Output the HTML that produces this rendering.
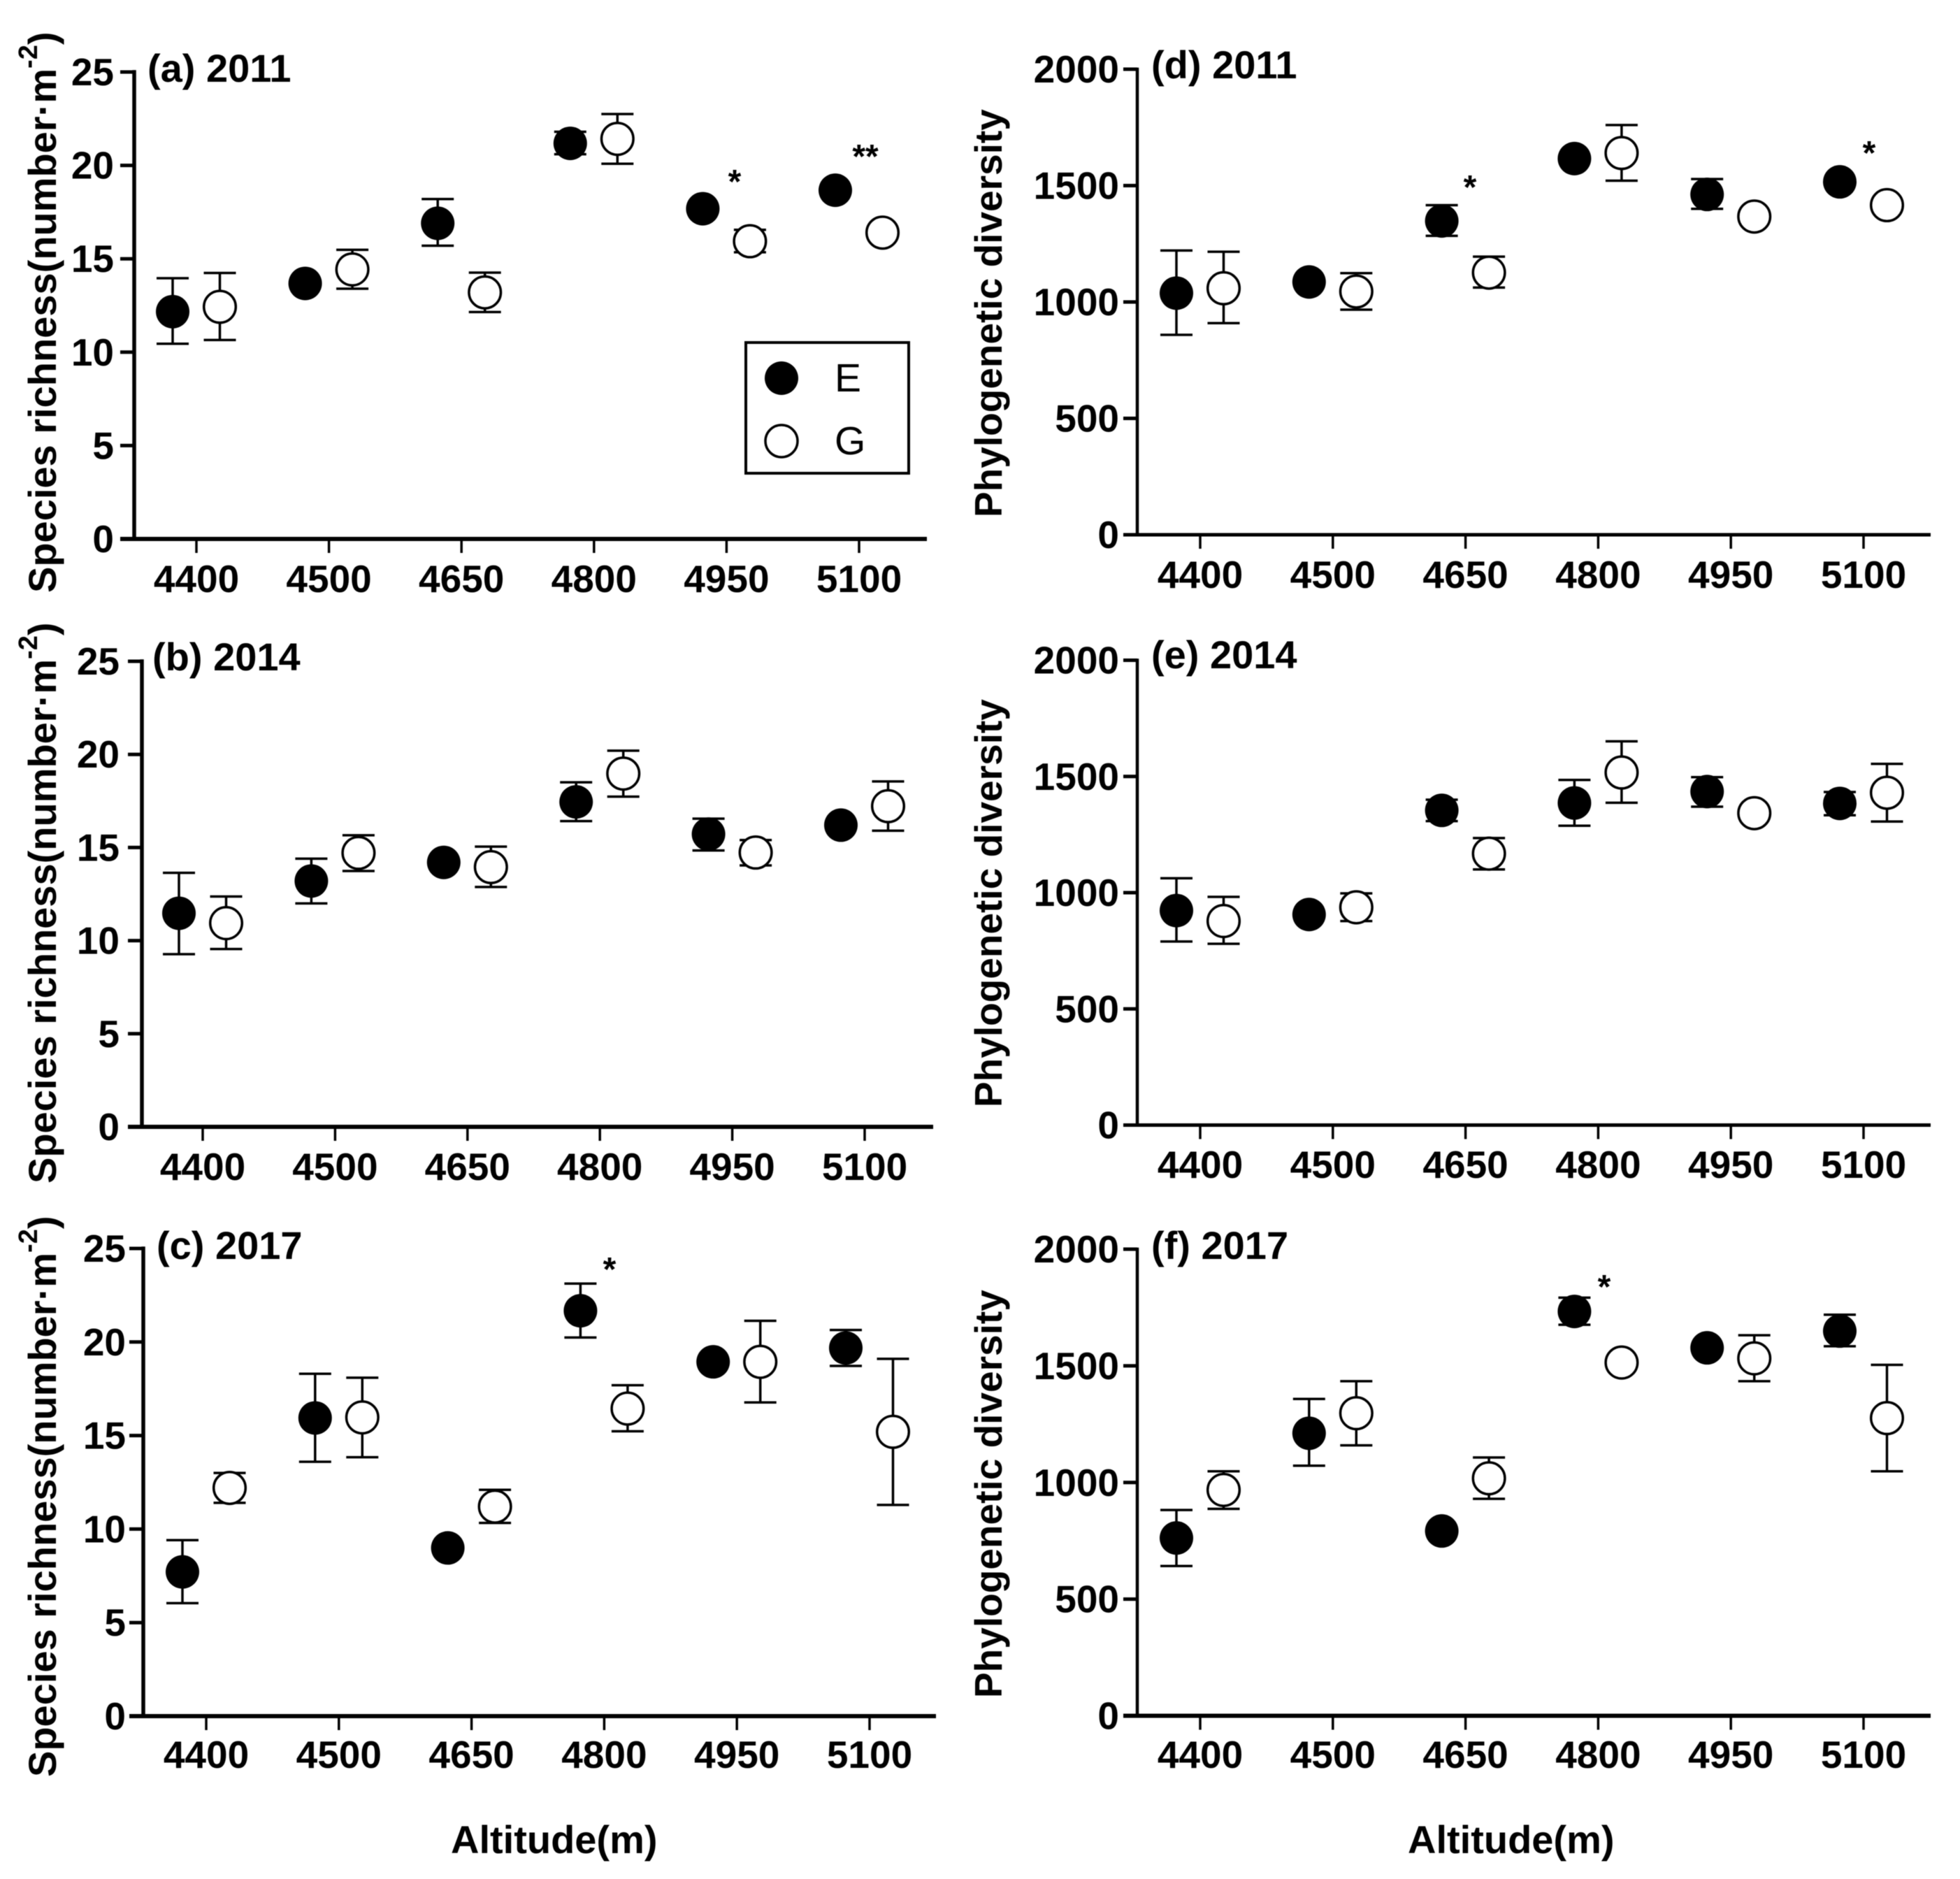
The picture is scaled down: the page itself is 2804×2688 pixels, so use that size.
<!DOCTYPE html>
<html lang="en">
<head>
<meta charset="utf-8">
<title>Species richness and phylogenetic diversity by altitude</title>
<style>
html,body{margin:0;padding:0;background:#fff;}
svg{display:block;filter:blur(0.6px);}
text{font-family:"Liberation Sans",Arial,sans-serif;fill:#000;}
.b{font-weight:700;}
.tick{font-size:55px;font-weight:700;}
.title{font-size:56px;font-weight:700;}
.ylab{font-size:56px;font-weight:700;}
.plab{font-size:55px;font-weight:700;}
.xlab{font-size:56px;font-weight:700;}
.star{font-size:48px;font-weight:700;}
.leg{font-size:57px;}
</style>
</head>
<body>
<svg id="chart" xmlns="http://www.w3.org/2000/svg" width="2804" height="2688" viewBox="0 0 2804 2688">
<rect x="0" y="0" width="2804" height="2688" fill="#fff"/>

<text class="title" x="211" y="117">(a) 2011</text>
<text class="title" x="218" y="959">(b) 2014</text>
<text class="title" x="224" y="1801">(c) 2017</text>
<text class="title" x="1647" y="112">(d) 2011</text>
<text class="title" x="1647" y="956">(e) 2014</text>
<text class="title" x="1647" y="1801">(f) 2017</text>

<text class="ylab" transform="translate(80,848) rotate(-90)">Species richness(number·m<tspan font-size="38" dy="-27">-2</tspan><tspan dy="27">)</tspan></text>
<text class="ylab" transform="translate(80,1693) rotate(-90)">Species richness(number·m<tspan font-size="38" dy="-27">-2</tspan><tspan dy="27">)</tspan></text>
<text class="ylab" transform="translate(80,2542) rotate(-90)">Species richness(number·m<tspan font-size="38" dy="-27">-2</tspan><tspan dy="27">)</tspan></text>
<text class="plab" transform="translate(1433,740) rotate(-90)">Phylogenetic diversity</text>
<text class="plab" transform="translate(1433,1584) rotate(-90)">Phylogenetic diversity</text>
<text class="plab" transform="translate(1433,2429) rotate(-90)">Phylogenetic diversity</text>

<text class="xlab" x="645" y="2651">Altitude(m)</text>
<text class="xlab" x="2014" y="2651">Altitude(m)</text>

<g id="panels"></g>

<g>
<text class="star" text-anchor="middle" x="1051" y="276">*</text>
<text class="star" text-anchor="middle" x="1238" y="240">**</text>
<text class="star" text-anchor="middle" x="872" y="1832">*</text>
<text class="star" text-anchor="middle" x="2103" y="284">*</text>
<text class="star" text-anchor="middle" x="2674" y="235">*</text>
<text class="star" text-anchor="middle" x="2295" y="1857">*</text>
</g>

<g>
<rect x="1067" y="490" width="233" height="187" fill="#fff" stroke="#000" stroke-width="4"/>
<circle cx="1118" cy="541" r="24" fill="#000"/>
<text class="leg" x="1194" y="560">E</text>
<circle cx="1118" cy="631" r="23" fill="#fff" stroke="#000" stroke-width="3.5"/>
<text class="leg" x="1194" y="650">G</text>
</g>
</svg>

<script>
const altitudes = ["4400", "4500", "4650", "4800", "4950", "5100"];
const richnessTicks = [0, 5, 10, 15, 20, 25];
const diversityTicks = [0, 500, 1000, 1500, 2000];

const aEMean = [12.17, 13.68, 16.9, 21.18, 17.68, 18.67];
const aEHigh = [13.96, 13.68, 18.2, 21.8, 17.68, 18.67];
const aELow = [10.45, 13.68, 15.7, 20.6, 17.68, 18.67];
const aGMean = [12.43, 14.43, 13.2, 21.42, 15.94, 16.4];
const aGHigh = [14.24, 15.48, 14.26, 22.75, 16.55, 16.4];
const aGLow = [10.65, 13.4, 12.15, 20.09, 15.35, 16.4];

const bEMean = [11.47, 13.2, 14.2, 17.45, 15.72, 16.2];
const bEHigh = [13.64, 14.4, 14.2, 18.5, 16.55, 16.2];
const bELow = [9.27, 12.0, 14.2, 16.42, 14.84, 16.2];
const bGMean = [10.94, 14.71, 13.95, 18.97, 14.73, 17.22];
const bGHigh = [12.37, 15.66, 15.05, 20.2, 15.4, 18.55];
const bGLow = [9.55, 13.74, 12.88, 17.73, 14.04, 15.9];

const cEMean = [7.71, 15.94, 8.99, 21.67, 18.94, 19.68];
const cEHigh = [9.41, 18.3, 8.99, 23.12, 18.94, 20.64];
const cELow = [6.04, 13.6, 8.99, 20.24, 18.94, 18.72];
const cGMean = [12.2, 15.97, 11.2, 16.44, 18.94, 15.2];
const cGHigh = [13.0, 18.09, 12.1, 17.69, 21.13, 19.1];
const cGLow = [11.4, 13.84, 10.33, 15.23, 16.77, 11.29];

const dEMean = [1038, 1086, 1348, 1616, 1462, 1516];
const dEHigh = [1221, 1086, 1416, 1616, 1528, 1516];
const dELow = [859, 1086, 1284, 1616, 1400, 1516];
const dGMean = [1059, 1045, 1126, 1640, 1367, 1416];
const dGHigh = [1216, 1124, 1195, 1760, 1367, 1416];
const dGLow = [909, 967, 1062, 1521, 1367, 1416];

const eEMean = [923, 906, 1354, 1386, 1435, 1384];
const eEHigh = [1062, 906, 1400, 1485, 1497, 1433];
const eELow = [790, 906, 1308, 1288, 1370, 1333];
const eGMean = [878, 937, 1168, 1517, 1342, 1430];
const eGHigh = [982, 997, 1235, 1651, 1342, 1554];
const eGLow = [780, 878, 1100, 1387, 1342, 1306];

const fEMean = [762, 1211, 792, 1733, 1577, 1649];
const fEHigh = [882, 1358, 792, 1792, 1577, 1719];
const fELow = [642, 1072, 792, 1676, 1577, 1584];
const fGMean = [968, 1297, 1018, 1514, 1532, 1276];
const fGHigh = [1048, 1434, 1107, 1514, 1631, 1504];
const fGLow = [887, 1159, 930, 1514, 1434, 1048];

const panels = [
  {id: "a", axisX: 192, y0: 771, yTop: 103, xEnd: 1326, first: 281, step: 189.6, yMax: 25, ticks: richnessTicks, labelRight: 163, tickBase: 847, w: 5.5, wx: 6,
   eMean: aEMean, eHigh: aEHigh, eLow: aELow, gMean: aGMean, gHigh: aGHigh, gLow: aGLow},
  {id: "b", axisX: 203, y0: 1612, yTop: 946, xEnd: 1335, first: 290, step: 189.4, yMax: 25, ticks: richnessTicks, labelRight: 171, tickBase: 1688, w: 5.5, wx: 6,
   eMean: bEMean, eHigh: bEHigh, eLow: bELow, gMean: bGMean, gHigh: bGHigh, gLow: bGLow},
  {id: "c", axisX: 205, y0: 2455, yTop: 1786, xEnd: 1339, first: 295, step: 189.8, yMax: 25, ticks: richnessTicks, labelRight: 180, tickBase: 2529, w: 5.5, wx: 6,
   eMean: cEMean, eHigh: cEHigh, eLow: cELow, gMean: cGMean, gHigh: cGHigh, gLow: cGLow},
  {id: "d", axisX: 1627, y0: 765, yTop: 99, xEnd: 2762, first: 1717, step: 189.8, yMax: 2000, ticks: diversityTicks, labelRight: 1601, tickBase: 841, w: 4.5, wx: 5,
   eMean: dEMean, eHigh: dEHigh, eLow: dELow, gMean: dGMean, gHigh: dGHigh, gLow: dGLow},
  {id: "e", axisX: 1627, y0: 1609.5, yTop: 944.5, xEnd: 2762, first: 1717, step: 189.8, yMax: 2000, ticks: diversityTicks, labelRight: 1601, tickBase: 1685, w: 4.5, wx: 5,
   eMean: eEMean, eHigh: eEHigh, eLow: eELow, gMean: eGMean, gHigh: eGHigh, gLow: eGLow},
  {id: "f", axisX: 1627, y0: 2454.5, yTop: 1787, xEnd: 2762, first: 1717, step: 189.8, yMax: 2000, ticks: diversityTicks, labelRight: 1601, tickBase: 2529, w: 4.5, wx: 6,
   eMean: fEMean, eHigh: fEHigh, eLow: fELow, gMean: fGMean, gHigh: fGHigh, gLow: fGLow}
];

const NS = "http://www.w3.org/2000/svg";
const root = document.getElementById("panels");

function mk(tag, attrs, parent) {
  const node = document.createElementNS(NS, tag);
  for (const k in attrs) node.setAttribute(k, attrs[k]);
  parent.appendChild(node);
  return node;
}

function drawSeries(g, p, xScale, yScale, key, mean, high, low, offset) {
  const solid = key === "E";
  mean.forEach(function (m, i) {
    const cx = xScale(i) + offset;
    const bar = mk("path", {
      d: "M" + (cx - 23) + " " + yScale(high[i]) + "H" + (cx + 23) +
         "M" + cx + " " + yScale(high[i]) + "V" + yScale(low[i]) +
         "M" + (cx - 23) + " " + yScale(low[i]) + "H" + (cx + 23),
      fill: "none", stroke: "#000", "stroke-width": 3.5
    }, g);
    
    
    const dot = mk("circle", {
      cx: cx, cy: yScale(m), r: solid ? 24 : 22.8,
      fill: solid ? "#000" : "#fff",
      stroke: "#000", "stroke-width": solid ? 0 : 3.5
    }, g);
    
    
  });
}

panels.forEach(function (p) {
  const g = mk("g", {}, root);
  
  

  const xScale = function (i) { return p.first + i * p.step; };
  const yScale = function (v) { return p.y0 - (v / p.yMax) * (p.y0 - p.yTop); };

  const yAxis = mk("line", {x1: p.axisX, x2: p.axisX, y1: p.yTop - p.w / 2, y2: p.y0, stroke: "#000", "stroke-width": p.w}, g);
  
  

  const xAxis = mk("line", {x1: p.axisX - 20, x2: p.xEnd, y1: p.y0, y2: p.y0, stroke: "#000", "stroke-width": p.wx}, g);
  
  

  p.ticks.forEach(function (t) {
    const y = yScale(t);
    const tick = mk("line", {x1: p.axisX - 20, x2: p.axisX, y1: y, y2: y, stroke: "#000", "stroke-width": 5}, g);
    
    
    const label = mk("text", {x: p.labelRight, y: y + 19, "text-anchor": "end", "class": "tick"}, g);
    label.textContent = String(t);
    
    
  });

  altitudes.forEach(function (a, i) {
    const x = xScale(i);
    const tick = mk("line", {x1: x, x2: x, y1: p.y0, y2: p.y0 + 20, stroke: "#000", "stroke-width": 3.5}, g);
    
    
    const label = mk("text", {x: x, y: p.tickBase, "text-anchor": "middle", "class": "tick"}, g);
    label.textContent = a;
    
    
  });

  drawSeries(g, p, xScale, yScale, "E", p.eMean, p.eHigh, p.eLow, -34);
  drawSeries(g, p, xScale, yScale, "G", p.gMean, p.gHigh, p.gLow, 33.5);
});
</script>
</body>
</html>
